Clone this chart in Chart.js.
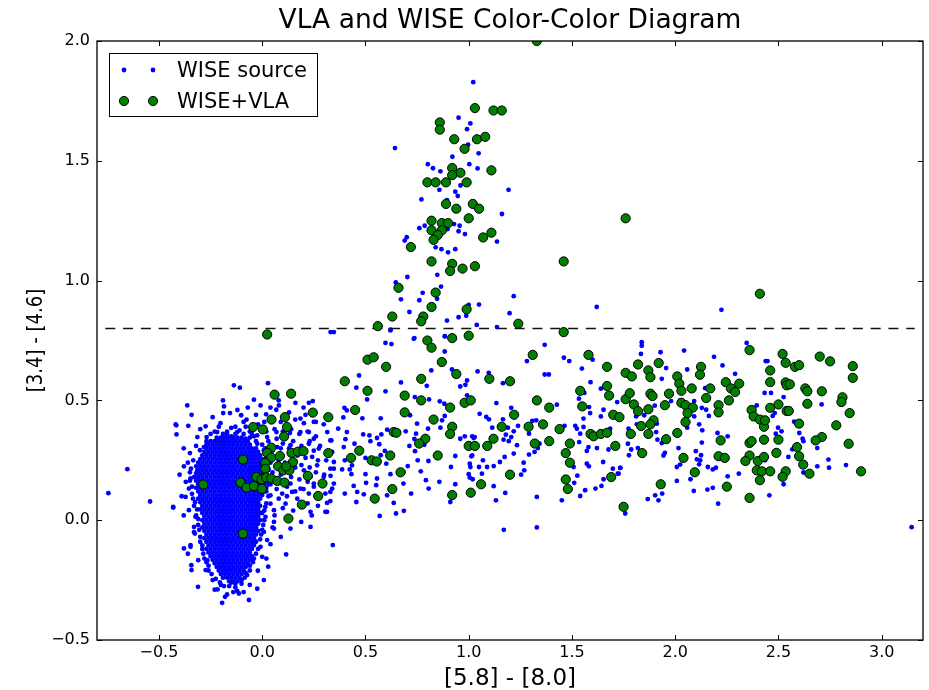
<!DOCTYPE html>
<html>
<head>
<meta charset="utf-8">
<title>VLA and WISE Color-Color Diagram</title>
<script src="https://cdn.jsdelivr.net/npm/chart.js@4.4.0/dist/chart.umd.min.js"></script>
<style>
  html, body { margin: 0; padding: 0; background: #fff; }
  canvas { display: block; }
</style>
</head>
<body>
<canvas id="ccd" width="929" height="690"></canvas>
<script>
// Axis ticks
const xTickValues = [-0.5, 0, 0.5, 1, 1.5, 2, 2.5, 3];
const yTickValues = [-0.5, 0, 0.5, 1, 1.5, 2];

// AGN colour cut in [3.4]-[4.6]
const agnCutoff = 0.8;
const cutoffSpan = [-0.76, 3.16];

// Dense stellar locus of WISE sources: each row is [y, x, x, ...]
const wiseCoreRows = [
  [0.36, -0.17,-0.13,-0.09],
  [0.345, -0.2,-0.18,-0.16,-0.14,-0.12,-0.1],
  [0.33, -0.23,-0.21,-0.19,-0.17,-0.15,-0.13,-0.11,-0.09,-0.07],
  [0.315, -0.26,-0.24,-0.22,-0.2,-0.18,-0.16,-0.14,-0.12,-0.1,-0.08,-0.06],
  [0.3, -0.27,-0.25,-0.23,-0.21,-0.19,-0.17,-0.15,-0.13,-0.11,-0.09,-0.07,-0.05,-0.03],
  [0.285, -0.28,-0.26,-0.24,-0.22,-0.2,-0.18,-0.16,-0.14,-0.12,-0.1,-0.08,-0.06,-0.04,-0.02],
  [0.27, -0.29,-0.27,-0.25,-0.23,-0.21,-0.19,-0.17,-0.15,-0.13,-0.11,-0.09,-0.07,-0.05,-0.03,-0.01],
  [0.255, -0.3,-0.28,-0.26,-0.24,-0.22,-0.2,-0.18,-0.16,-0.14,-0.12,-0.1,-0.08,-0.06,-0.04,-0.02,0.0],
  [0.24, -0.31,-0.29,-0.27,-0.25,-0.23,-0.21,-0.19,-0.17,-0.15,-0.13,-0.11,-0.09,-0.07,-0.05,-0.03,-0.01,0.01],
  [0.225, -0.32,-0.3,-0.28,-0.26,-0.24,-0.22,-0.2,-0.18,-0.16,-0.14,-0.12,-0.1,-0.08,-0.06,-0.04,-0.02,0.0,0.02],
  [0.21, -0.31,-0.29,-0.27,-0.25,-0.23,-0.21,-0.19,-0.17,-0.15,-0.13,-0.11,-0.09,-0.07,-0.05,-0.03,-0.01,0.01,0.03],
  [0.195, -0.32,-0.3,-0.28,-0.26,-0.24,-0.22,-0.2,-0.18,-0.16,-0.14,-0.12,-0.1,-0.08,-0.06,-0.04,-0.02,0.0,0.02],
  [0.18, -0.33,-0.31,-0.29,-0.27,-0.25,-0.23,-0.21,-0.19,-0.17,-0.15,-0.13,-0.11,-0.09,-0.07,-0.05,-0.03,-0.01,0.01,0.03],
  [0.165, -0.32,-0.3,-0.28,-0.26,-0.24,-0.22,-0.2,-0.18,-0.16,-0.14,-0.12,-0.1,-0.08,-0.06,-0.04,-0.02,0.0,0.02,0.04],
  [0.15, -0.31,-0.29,-0.27,-0.25,-0.23,-0.21,-0.19,-0.17,-0.15,-0.13,-0.11,-0.09,-0.07,-0.05,-0.03,-0.01,0.01,0.03],
  [0.135, -0.32,-0.3,-0.28,-0.26,-0.24,-0.22,-0.2,-0.18,-0.16,-0.14,-0.12,-0.1,-0.08,-0.06,-0.04,-0.02,0.0,0.02],
  [0.12, -0.31,-0.29,-0.27,-0.25,-0.23,-0.21,-0.19,-0.17,-0.15,-0.13,-0.11,-0.09,-0.07,-0.05,-0.03,-0.01,0.01],
  [0.105, -0.3,-0.28,-0.26,-0.24,-0.22,-0.2,-0.18,-0.16,-0.14,-0.12,-0.1,-0.08,-0.06,-0.04,-0.02,0.0],
  [0.09, -0.31,-0.29,-0.27,-0.25,-0.23,-0.21,-0.19,-0.17,-0.15,-0.13,-0.11,-0.09,-0.07,-0.05,-0.03,-0.01],
  [0.075, -0.3,-0.28,-0.26,-0.24,-0.22,-0.2,-0.18,-0.16,-0.14,-0.12,-0.1,-0.08,-0.06,-0.04,-0.02],
  [0.06, -0.29,-0.27,-0.25,-0.23,-0.21,-0.19,-0.17,-0.15,-0.13,-0.11,-0.09,-0.07,-0.05,-0.03,-0.01],
  [0.045, -0.3,-0.28,-0.26,-0.24,-0.22,-0.2,-0.18,-0.16,-0.14,-0.12,-0.1,-0.08,-0.06,-0.04,-0.02],
  [0.03, -0.29,-0.27,-0.25,-0.23,-0.21,-0.19,-0.17,-0.15,-0.13,-0.11,-0.09,-0.07,-0.05,-0.03,-0.01],
  [0.015, -0.28,-0.26,-0.24,-0.22,-0.2,-0.18,-0.16,-0.14,-0.12,-0.1,-0.08,-0.06,-0.04,-0.02],
  [0.0, -0.29,-0.27,-0.25,-0.23,-0.21,-0.19,-0.17,-0.15,-0.13,-0.11,-0.09,-0.07,-0.05,-0.03,-0.01],
  [-0.015, -0.28,-0.26,-0.24,-0.22,-0.2,-0.18,-0.16,-0.14,-0.12,-0.1,-0.08,-0.06,-0.04,-0.02],
  [-0.03, -0.29,-0.27,-0.25,-0.23,-0.21,-0.19,-0.17,-0.15,-0.13,-0.11,-0.09,-0.07,-0.05,-0.03],
  [-0.045, -0.28,-0.26,-0.24,-0.22,-0.2,-0.18,-0.16,-0.14,-0.12,-0.1,-0.08,-0.06,-0.04,-0.02],
  [-0.06, -0.27,-0.25,-0.23,-0.21,-0.19,-0.17,-0.15,-0.13,-0.11,-0.09,-0.07,-0.05,-0.03],
  [-0.075, -0.28,-0.26,-0.24,-0.22,-0.2,-0.18,-0.16,-0.14,-0.12,-0.1,-0.08,-0.06,-0.04],
  [-0.09, -0.27,-0.25,-0.23,-0.21,-0.19,-0.17,-0.15,-0.13,-0.11,-0.09,-0.07,-0.05,-0.03],
  [-0.105, -0.26,-0.24,-0.22,-0.2,-0.18,-0.16,-0.14,-0.12,-0.1,-0.08,-0.06,-0.04],
  [-0.12, -0.27,-0.25,-0.23,-0.21,-0.19,-0.17,-0.15,-0.13,-0.11,-0.09,-0.07,-0.05],
  [-0.135, -0.26,-0.24,-0.22,-0.2,-0.18,-0.16,-0.14,-0.12,-0.1,-0.08,-0.06],
  [-0.15, -0.25,-0.23,-0.21,-0.19,-0.17,-0.15,-0.13,-0.11,-0.09,-0.07,-0.05],
  [-0.165, -0.24,-0.22,-0.2,-0.18,-0.16,-0.14,-0.12,-0.1,-0.08,-0.06],
  [-0.18, -0.23,-0.21,-0.19,-0.17,-0.15,-0.13,-0.11,-0.09,-0.07],
  [-0.195, -0.22,-0.2,-0.18,-0.16,-0.14,-0.12,-0.1,-0.08],
  [-0.21, -0.21,-0.19,-0.17,-0.15,-0.13,-0.11,-0.09],
  [-0.225, -0.2,-0.18,-0.16,-0.14,-0.12,-0.1],
  [-0.24, -0.19,-0.17,-0.15,-0.13,-0.11],
  [-0.255, -0.16,-0.14,-0.12]
];

// Remaining WISE sources as [x, y]
const wiseSources = [
  // edge of the stellar locus
  [-0.345,0.215],[-0.35,0.165],[-0.34,0.14],[-0.335,0.09],[-0.325,0.075],[-0.315,0.045],[-0.31,0.005],[-0.305,-0.04],[-0.3,-0.09],[-0.29,-0.105],
  [-0.285,-0.14],[-0.27,-0.175],[-0.26,-0.19],[-0.245,-0.225],[-0.225,-0.245],[-0.205,-0.26],[-0.185,-0.275],
  [-0.005,-0.06],[0.005,-0.02],[0.0,0.03],[0.015,0.055],[0.02,0.12],[0.035,0.18],[0.03,0.215],[0.02,0.26],[0.015,0.3],
  [0.0,0.315],[-0.03,0.33],[-0.045,-0.1],[-0.03,-0.14],[-0.045,-0.175],[-0.06,-0.21],[-0.085,-0.24],[-0.1,-0.265],
  [-0.25,0.33],[-0.27,0.315],[-0.22,0.345],[-0.06,0.345],[-0.19,0.36],[-0.11,0.375],[-0.15,0.385],[-0.05,0.36],[-0.23,0.37],[-0.08,0.39],
  [-0.16,-0.275],[-0.13,-0.265],[-0.14,-0.3],[-0.18,-0.32],[-0.09,-0.3],
  // around the stellar locus
  [0.03,0.33],[0.07,0.34],[0.10,0.32],[0.15,0.33],[0.19,0.31],[0.23,0.33],[0.05,0.29],[0.09,0.30],[0.13,0.30],[0.17,0.27],
  [0.21,0.26],[0.25,0.29],[0.04,0.24],[0.08,0.25],[0.11,0.24],[0.16,0.22],[0.19,0.23],[0.23,0.22],[0.27,0.25],[0.05,0.20],
  [0.09,0.19],[0.14,0.18],[0.18,0.17],[0.22,0.16],[0.26,0.20],[0.04,0.15],[0.07,0.13],[0.12,0.14],[0.16,0.12],[0.20,0.13],
  [0.25,0.14],[0.03,0.10],[0.08,0.09],[0.12,0.10],[0.17,0.09],[0.02,0.37],[0.06,0.38],[0.10,0.37],[0.14,0.38],[0.18,0.36],
  [0.22,0.37],[0.26,0.35],[0.01,0.41],[0.05,0.42],[0.09,0.41],[0.16,0.42],[0.21,0.44],[0.13,0.45],[-0.02,0.40],[-0.06,0.37],
  [-0.09,0.41],[-0.13,0.39],[-0.17,0.37],[-0.21,0.39],[-0.25,0.36],[-0.04,0.35],[-0.15,0.35],[-0.27,0.33],[-0.32,0.31],[-0.35,0.28],
  [-0.36,0.24],[-0.35,0.20],[-0.37,0.16],[-0.34,0.11],[-0.33,0.06],[-0.32,0.02],[-0.31,-0.02],[-0.30,-0.07],[-0.29,-0.12],[-0.28,-0.16],
  [-0.26,-0.21],[-0.24,-0.25],[-0.20,-0.27],[-0.15,-0.26],[-0.10,-0.25],[-0.08,-0.22],[-0.06,-0.19],[-0.04,-0.16],[-0.02,-0.12],[-0.01,-0.08],
  [0.0,-0.04],[0.01,0.0],[0.01,0.04],[0.02,0.07],[-0.23,-0.29],[-0.17,-0.31],[-0.13,-0.28],[-0.06,-0.27],[-0.33,-0.05],[-0.36,-0.14],
  [-0.38,0.02],[-0.39,0.10],[-0.40,0.19],[-0.38,0.30],[-0.30,0.38],[-0.24,0.43],[-0.12,0.46],[-0.07,0.47],[-0.19,0.50],[-0.03,0.44],
  [0.04,0.47],[0.08,0.50],[0.20,0.47],[0.26,0.41],[0.28,0.31],[0.31,0.25],[0.30,0.19],[0.33,0.08],[0.27,0.06],[0.22,0.07],
  [0.24,0.02],[0.15,0.04],[0.10,0.05],[0.06,0.02],[0.05,-0.03],[0.09,-0.07],[0.04,-0.10],[0.02,-0.16],
  [-0.137,0.563],[-0.108,0.553],[0.028,0.572],[-0.363,0.479],[-0.185,0.475],[-0.342,0.44],[-0.189,0.447],[-0.156,0.447],[-0.04,0.503],[-0.008,0.479],
  [0.081,0.479],[0.161,0.49],[0.226,0.49],[0.245,0.497],[-0.419,0.4],[-0.415,0.358],[-0.358,0.394],[-0.274,0.392],[-0.202,0.405],[-0.102,0.438],
  [-0.076,0.42],[0.019,0.442],[0.068,0.461],[0.185,0.424],[0.202,0.405],[0.25,0.41],[0.298,0.4],[0.315,0.368],[-0.314,0.347],[-0.269,0.347],
  [-0.218,0.368],[-0.121,0.368],[-0.048,0.375],[-0.024,0.354],[0.024,0.347],[0.069,0.368],[0.134,0.364],[0.185,0.368],[0.226,0.368],[0.25,0.34],
  [0.33,0.333],[0.339,0.285],[0.274,0.299],[0.226,0.319],[0.202,0.292],[-0.379,0.225],[-0.334,0.25],[-0.301,0.292],[-0.282,0.305],[-0.185,0.326],
  [-0.145,0.333],[-0.081,0.34],[-0.024,0.319],[0.008,0.292],[0.073,0.305],[0.137,0.313],[0.242,0.264],[0.266,0.229],[0.33,0.215],[0.298,0.181],
  [0.25,0.153],[0.347,0.153],[0.33,0.118],[-0.347,0.174],[-0.314,0.208],[-0.355,0.132],[0.202,0.208],[0.234,0.181],[0.185,0.132],[0.137,0.153],
  [-0.194,-0.345],[-0.064,-0.333],[-0.311,-0.278],[-0.216,-0.289],[-0.121,-0.295],[-0.024,-0.286],[0.008,-0.25],[-0.113,-0.306],[-0.342,-0.208],[-0.343,-0.188],
  [-0.379,-0.118],[-0.347,-0.111],[-0.431,0.053],[0.342,-0.104],[0.116,-0.143],[0.234,-0.028],[0.306,0.035],[0.137,-0.035],[0.189,-0.007],[0.057,-0.035],
  [0.024,-0.083],[-0.021,-0.211],[0.029,-0.194],[-0.073,-0.229],[-0.274,-0.208],[-0.266,-0.167],[-0.31,-0.167],[-0.33,-0.028],[-0.326,-0.056],[-0.347,-0.104],
  [0.04,0.104],[0.097,0.111],[0.145,0.118],[0.226,0.111],[0.306,0.111],[0.04,0.069],[0.057,0.042],[0.113,0.069],[0.234,0.035],[0.057,-0.007],
  [0.016,0.014],[0.008,-0.049],[-0.008,-0.111],[0.0,-0.153],[-0.371,0.097],[-0.355,0.042],[-0.323,0.014],
  [-0.745,0.113],[-0.653,0.213],[-0.543,0.078],[-0.431,0.055],[-0.416,0.396],
  // rising branch
  [1.022,1.828],[0.951,1.68],[1.008,1.656],[0.992,1.632],[0.643,1.553],[0.997,1.567],[1.048,1.531],[0.921,1.517],[0.802,1.486],[0.827,1.469],
  [0.863,1.456],[1.003,1.486],[1.043,1.468],[0.858,1.379],[0.96,1.397],[0.935,1.371],[0.947,1.353],[0.771,1.339],[0.895,1.336],[1.193,1.379],
  [1.161,1.278],[0.761,1.219],[0.787,1.229],[0.929,1.236],[0.956,1.229],[0.951,1.206],[0.982,1.194],[0.898,1.215],[0.7,1.181],[0.69,1.167],
  [1.137,1.163],[0.84,1.139],[0.868,1.131],[0.9,1.118],[0.935,1.131],[0.848,1.024],[0.866,0.975],[0.703,1.015],[0.647,0.992],[0.777,0.949],
  [0.761,0.918],[0.847,0.924],[0.672,0.922],[0.713,0.869],[0.895,0.833],[0.951,0.847],[0.988,0.853],[1.0,0.899],[1.05,0.9],[1.039,0.815],
  [1.137,0.806],[1.218,0.935],[1.198,0.864],[0.621,0.795],[0.737,0.76],[0.885,0.768],[1.62,0.89],[0.331,0.785],[0.347,0.785],
  // horizontal branch, x 0.3 - 1.0
  [0.597,0.74],[0.626,0.735],[0.734,0.757],[0.884,0.767],[0.884,0.704],[0.621,0.792],[0.469,0.604],[0.819,0.625],[0.919,0.629],[0.672,0.575],
  [0.797,0.561],[0.456,0.553],[0.597,0.538],[0.508,0.504],[0.739,0.514],[0.808,0.504],[0.86,0.496],[0.882,0.486],[0.959,0.558],[0.984,0.565],
  [0.398,0.469],[0.41,0.458],[0.393,0.429],[0.716,0.438],[0.574,0.425],[0.485,0.425],[0.884,0.435],[0.871,0.417],[0.75,0.403],[0.803,0.382],
  [0.863,0.386],[0.368,0.382],[0.41,0.368],[0.605,0.378],[0.695,0.371],[0.489,0.358],[0.519,0.354],[0.556,0.343],[0.577,0.358],[0.335,0.333],
  [0.403,0.338],[0.524,0.33],[0.745,0.361],[0.737,0.339],[0.959,0.34],[0.981,0.35],[1.024,0.343],[0.395,0.305],[0.447,0.319],[0.567,0.317],
  [0.713,0.31],[0.785,0.315],[0.594,0.289],[0.574,0.271],[0.74,0.288],[0.935,0.268],[1.017,0.27],[0.347,0.243],[0.4,0.25],[0.435,0.229],
  [0.5,0.26],[0.601,0.236],[0.705,0.226],[0.753,0.25],[0.805,0.247],[1.005,0.236],[0.347,0.215],[0.387,0.212],[0.424,0.212],[0.5,0.192],
  [0.621,0.192],[0.684,0.201],[0.768,0.204],[0.914,0.222],[1.0,0.192],[0.331,0.185],[0.432,0.192],[0.556,0.174],[0.793,0.167],[0.858,0.16],
  [0.935,0.15],[1.019,0.171],[0.443,0.143],[0.503,0.156],[0.552,0.146],[0.684,0.153],[0.806,0.132],[0.339,0.132],[0.4,0.111],[0.46,0.118],
  [0.492,0.108],[0.605,0.104],[0.721,0.111],[0.456,0.076],[0.637,0.072],[0.911,0.076],[0.686,0.039],[0.648,0.028],[0.569,0.018],[0.314,0.072],
  [0.314,0.035],
  // horizontal branch, x 1.0 - 1.75
  [1.368,0.732],[1.282,0.664],[1.461,0.678],[1.487,0.664],[1.6,0.67],[1.548,0.633],[1.043,0.621],[1.097,0.615],[1.166,0.572],[1.368,0.608],
  [1.388,0.608],[1.59,0.576],[1.64,0.549],[1.56,0.531],[1.534,0.507],[1.134,0.489],[1.206,0.469],[1.427,0.482],[1.583,0.472],[1.653,0.461],
  [1.588,0.447],[1.053,0.444],[1.085,0.431],[1.098,0.421],[1.166,0.421],[1.64,0.433],[1.308,0.414],[1.327,0.417],[1.556,0.424],[1.239,0.394],
  [1.464,0.394],[1.516,0.394],[1.524,0.382],[1.114,0.386],[1.19,0.386],[1.218,0.371],[1.556,0.389],[1.685,0.382],[1.18,0.357],[1.206,0.347],
  [1.292,0.361],[1.54,0.361],[1.017,0.35],[1.029,0.347],[1.169,0.336],[1.194,0.33],[1.535,0.326],[1.58,0.305],[1.234,0.313],[1.343,0.319],
  [1.621,0.301],[1.677,0.295],[1.572,0.289],[1.335,0.301],[1.319,0.285],[1.218,0.278],[1.292,0.274],[1.013,0.267],[1.174,0.264],[1.151,0.243],
  [1.121,0.226],[1.069,0.25],[1.05,0.222],[1.089,0.222],[1.008,0.222],[1.266,0.24],[1.572,0.236],[1.582,0.225],[1.651,0.243],[1.698,0.215],
  [1.734,0.218],[1.064,0.194],[1.269,0.208],[1.254,0.19],[1.508,0.222],[1.526,0.186],[1.726,0.194],[1.653,0.171],[1.511,0.156],[1.005,0.178],
  [1.121,0.142],[1.177,0.114],[1.33,0.097],[1.564,0.125],[1.614,0.132],[1.643,0.143],[1.54,0.101],[1.132,0.083],[1.451,0.083],[1.758,0.028],
  [0.992,0.583],[0.992,0.521],[1.17,-0.04],[1.33,-0.03],
  // horizontal branch, x 1.7 - 2.45
  [2.224,0.878],[1.838,0.743],[1.838,0.728],[1.834,0.694],[1.929,0.701],[2.043,0.708],[2.188,0.682],[2.346,0.74],[1.956,0.635],[1.935,0.59],
  [2.058,0.629],[2.229,0.646],[2.29,0.611],[2.145,0.551],[2.433,0.531],[2.438,0.664],[1.98,0.497],[2.024,0.5],[2.092,0.497],[2.129,0.469],
  [2.15,0.461],[2.163,0.435],[2.092,0.433],[1.901,0.478],[1.85,0.438],[1.811,0.433],[1.719,0.493],[1.898,0.417],[1.911,0.403],[1.814,0.4],
  [1.774,0.382],[2.058,0.386],[2.116,0.4],[2.131,0.375],[2.205,0.364],[2.254,0.35],[1.908,0.368],[1.914,0.336],[1.935,0.322],[1.771,0.319],
  [2.129,0.324],[1.787,0.295],[1.776,0.271],[1.819,0.301],[1.95,0.281],[1.943,0.27],[2.016,0.301],[2.1,0.288],[2.125,0.271],[2.105,0.254],
  [2.121,0.25],[2.116,0.233],[2.024,0.232],[2.008,0.222],[2.158,0.222],[2.182,0.212],[2.197,0.219],[2.308,0.194],[1.734,0.218],[1.722,0.194],
  [2.008,0.164],[2.074,0.171],[2.254,0.183],[1.939,0.142],[1.903,0.104],[1.937,0.111],[1.919,0.083],[1.867,0.088],[2.09,0.122],[2.156,0.128],
  [2.182,0.135],[2.208,0.069],[2.435,0.25],
  // horizontal branch, x 2.4 - 2.9
  [2.447,0.664],[2.53,0.65],[2.464,0.531],[2.525,0.514],[2.709,0.483],[2.395,0.479],[2.482,0.447],[2.472,0.435],[2.576,0.411],[2.498,0.386],
  [2.515,0.371],[2.487,0.361],[2.601,0.364],[2.617,0.34],[2.621,0.33],[2.567,0.296],[2.548,0.264],[2.688,0.301],[2.742,0.253],[2.745,0.219],
  [2.688,0.225],[2.827,0.23],[2.621,0.199],[2.525,0.15],[2.456,0.104],[3.145,-0.029]
];

// WISE sources with a VLA counterpart as [x, y]
const wiseVlaSources = [
  // rising branch
  [1.03,1.72],[1.12,1.71],[1.16,1.71],[0.86,1.66],[0.86,1.63],[0.93,1.59],[1.04,1.59],[1.08,1.60],[0.98,1.55],[1.11,1.46],
  [0.92,1.47],[0.96,1.45],[0.92,1.44],[0.80,1.41],[0.84,1.41],[0.89,1.41],[0.99,1.41],[0.89,1.32],[1.02,1.32],[1.05,1.30],
  [0.94,1.30],[1.00,1.26],[0.82,1.25],[0.87,1.24],[0.90,1.24],[0.82,1.21],[0.87,1.21],[0.85,1.19],[0.83,1.17],[1.11,1.20],
  [1.07,1.18],[0.72,1.14],[0.82,1.08],[0.92,1.07],[0.91,1.04],[0.97,1.05],[1.03,1.06],[0.66,0.97],[0.84,0.95],[0.82,0.89],
  [0.99,0.88],[0.78,0.85],[0.77,0.83],[0.63,0.85],[0.56,0.81],[1.24,0.82],[0.92,0.76],[1.00,0.77],[0.80,0.75],[1.33,2.00],
  [1.76,1.26],[1.46,1.08],[1.46,0.785],[2.41,0.945],
  // x 0.3 - 1.0
  [0.82,0.72],[0.51,0.67],[0.54,0.68],[0.60,0.64],[0.87,0.66],[0.94,0.61],[0.40,0.58],[0.77,0.59],[0.51,0.54],[0.69,0.52],
  [0.77,0.50],[0.98,0.49],[1.01,0.50],[0.91,0.47],[0.45,0.46],[0.69,0.45],[0.32,0.43],[0.83,0.42],[0.92,0.39],[0.91,0.36],
  [0.637,0.368],[0.65,0.365],[0.79,0.34],[0.76,0.32],[1.00,0.31],[1.03,0.31],[0.47,0.29],[0.43,0.26],[0.32,0.28],[0.53,0.25],
  [0.555,0.245],[0.62,0.27],[0.85,0.27],[0.67,0.20],[0.63,0.13],[0.545,0.09],[0.92,0.105],[1.01,0.115],
  // x 1.0 - 1.8
  [1.31,0.69],[1.58,0.69],[1.67,0.64],[1.76,0.615],[1.10,0.59],[1.20,0.58],[1.33,0.50],[1.54,0.54],[1.67,0.56],[1.68,0.52],
  [1.76,0.505],[1.55,0.475],[1.39,0.47],[1.22,0.44],[1.70,0.44],[1.73,0.43],[1.16,0.39],[1.29,0.39],[1.36,0.40],[1.44,0.38],
  [1.59,0.36],[1.605,0.35],[1.64,0.36],[1.67,0.365],[1.12,0.34],[1.39,0.33],[1.09,0.31],[1.32,0.32],[1.49,0.32],[1.71,0.31],
  [1.47,0.28],[1.49,0.24],[1.20,0.19],[1.69,0.18],[1.47,0.17],[1.48,0.13],[1.06,0.15],[1.75,0.056],
  // x 1.7 - 2.45
  [2.36,0.71],[1.82,0.65],[1.92,0.656],[1.79,0.60],[1.87,0.625],[1.88,0.597],[2.01,0.60],[2.02,0.57],[2.03,0.54],[2.125,0.64],
  [2.12,0.607],[2.17,0.55],[2.08,0.55],[2.245,0.576],[2.27,0.55],[2.29,0.535],[2.31,0.57],[2.26,0.50],[1.78,0.53],[1.88,0.528],
  [1.89,0.518],[1.97,0.528],[2.03,0.49],[2.05,0.48],[2.085,0.47],[2.15,0.51],[2.21,0.48],[2.21,0.45],[2.06,0.447],[1.80,0.483],
  [1.82,0.455],[1.87,0.463],[1.95,0.48],[1.895,0.417],[1.88,0.40],[1.835,0.393],[1.87,0.36],[2.05,0.41],[2.01,0.364],[1.785,0.36],
  [1.956,0.338],[2.22,0.333],[1.84,0.28],[2.04,0.26],[2.21,0.267],[2.24,0.26],[2.095,0.20],[1.93,0.15],[2.25,0.14],[2.36,0.093],
  [2.37,0.46],[2.38,0.433],[2.41,0.42],[2.43,0.39],[2.43,0.336],[2.36,0.322],[2.37,0.33],[2.36,0.27],[2.34,0.247],[2.40,0.247],
  [2.395,0.208],[2.42,0.204],[2.41,0.167],
  // x 2.4 - 2.9
  [2.52,0.694],[2.70,0.683],[2.75,0.663],[2.86,0.643],[2.86,0.594],[2.535,0.657],[2.58,0.64],[2.60,0.647],[2.46,0.625],[2.46,0.576],
  [2.535,0.575],[2.54,0.563],[2.555,0.567],[2.63,0.55],[2.64,0.538],[2.71,0.538],[2.81,0.513],[2.805,0.493],[2.845,0.447],[2.64,0.486],
  [2.50,0.483],[2.46,0.469],[2.54,0.456],[2.55,0.456],[2.78,0.396],[2.60,0.403],[2.435,0.417],[2.71,0.347],[2.68,0.333],[2.84,0.319],
  [2.50,0.336],[2.59,0.305],[2.60,0.267],[2.49,0.281],[2.43,0.264],[2.62,0.232],[2.46,0.204],[2.535,0.204],[2.65,0.194],[2.52,0.181],
  [2.90,0.204],
  // stellar locus
  [0.06,0.524],[0.14,0.528],[0.245,0.449],[0.045,0.42],[0.11,0.43],[-0.044,0.389],[0.003,0.379],[0.12,0.389],[0.106,0.349],[0.044,0.303],
  [0.024,0.281],[0.044,0.261],[0.086,0.268],[0.142,0.281],[0.173,0.286],[0.200,0.288],[0.149,0.243],[-0.093,0.253],[0.015,0.239],[0.015,0.215],
  [0.077,0.225],[0.102,0.208],[0.132,0.208],[0.116,0.225],[0.221,0.185],[-0.028,0.181],[-0.003,0.171],[0.019,0.178],[0.044,0.174],[0.073,0.164],
  [0.108,0.157],[-0.105,0.157],[-0.076,0.136],[-0.040,0.142],[-0.001,0.131],[-0.285,0.149],[0.292,0.153],[0.271,0.101],[0.192,0.065],[0.127,0.007],
  [-0.093,-0.056],[0.024,0.775]
];

const wisePoints = [];
wiseCoreRows.forEach(row => {
  for (let i = 1; i < row.length; i++) wisePoints.push({ x: row[i], y: row[0] });
});
wiseSources.forEach(p => wisePoints.push({ x: p[0], y: p[1] }));
const vlaPoints = wiseVlaSources.map(p => ({ x: p[0], y: p[1] }));
const cutoffLine = cutoffSpan.map(v => ({ x: v, y: agnCutoff }));

const FONT = "'DejaVu Sans', 'Liberation Sans', sans-serif";
const BLUE = '#0000ff';
const GREEN = '#007f00';

const fmtTick = v => (v < 0 ? '\u2212' : '') + Math.abs(v).toFixed(1);

// Frame, inward ticks, titles and boxed legend in the classic style
const decor = {
  id: 'decor',
  beforeDraw(chart) {
    const ctx = chart.ctx;
    ctx.save();
    ctx.fillStyle = '#fff';
    ctx.fillRect(0, 0, chart.width, chart.height);
    ctx.restore();
  },
  afterDraw(chart) {
    const { ctx, chartArea: a, scales: { x, y } } = chart;
    ctx.save();
    ctx.strokeStyle = '#000';
    ctx.lineWidth = 1;
    const tl = 5;
    ctx.beginPath();
    xTickValues.forEach(v => {
      const px = Math.round(x.getPixelForValue(v)) + 0.5;
      ctx.moveTo(px, a.bottom); ctx.lineTo(px, a.bottom - tl);
      ctx.moveTo(px, a.top); ctx.lineTo(px, a.top + tl);
    });
    yTickValues.forEach(v => {
      const py = Math.round(y.getPixelForValue(v)) + 0.5;
      ctx.moveTo(a.left, py); ctx.lineTo(a.left + tl, py);
      ctx.moveTo(a.right, py); ctx.lineTo(a.right - tl, py);
    });
    ctx.stroke();
    ctx.lineWidth = 1.3;
    ctx.strokeRect(a.left, a.top, a.right - a.left, a.bottom - a.top);

    // titles
    ctx.fillStyle = '#000';
    ctx.textAlign = 'center';
    ctx.textBaseline = 'alphabetic';
    ctx.font = `26.5px ${FONT}`;
    ctx.fillText('VLA and WISE Color-Color Diagram', (a.left + a.right) / 2, 28);
    ctx.font = `23px ${FONT}`;
    ctx.fillText('[5.8] - [8.0]', (a.left + a.right) / 2, 685);
    ctx.save();
    ctx.translate(36, (a.top + a.bottom) / 2);
    ctx.rotate(-Math.PI / 2);
    ctx.scale(0.82, 1);
    ctx.textBaseline = 'middle';
    ctx.font = `22px ${FONT}`;
    ctx.fillText('[3.4] - [4.6]', 0, 0);
    ctx.restore();

    // legend
    const bx = 109.5, by = 53.5, bw = 208, bh = 63;
    ctx.fillStyle = '#fff';
    ctx.fillRect(bx, by, bw, bh);
    ctx.lineWidth = 1;
    ctx.strokeStyle = '#000';
    ctx.strokeRect(bx, by, bw, bh);
    const mx = [124, 153];
    mx.forEach(cx => {
      ctx.beginPath(); ctx.arc(cx, 70, 2.4, 0, Math.PI * 2);
      ctx.fillStyle = BLUE; ctx.fill();
      ctx.beginPath(); ctx.arc(cx, 101, 4.6, 0, Math.PI * 2);
      ctx.fillStyle = GREEN; ctx.fill();
      ctx.strokeStyle = '#000'; ctx.stroke();
    });
    ctx.fillStyle = '#000';
    ctx.textAlign = 'left';
    ctx.textBaseline = 'alphabetic';
    ctx.font = `21px ${FONT}`;
    ctx.fillText('WISE source', 177, 77);
    ctx.fillText('WISE+VLA', 177, 108);
    ctx.restore();
  }
};

new Chart(document.getElementById('ccd'), {
  type: 'scatter',
  data: {
    datasets: [
      {
        label: 'WISE source',
        data: wisePoints,
        backgroundColor: BLUE,
        borderWidth: 0,
        pointRadius: 2.4,
        order: 3
      },
      {
        type: 'line',
        label: 'AGN cut',
        data: cutoffLine,
        borderColor: '#111',
        borderWidth: 1.6,
        borderDash: [10, 7.8],
        pointRadius: 0,
        fill: false,
        order: 2
      },
      {
        label: 'WISE+VLA',
        data: vlaPoints,
        backgroundColor: GREEN,
        borderColor: '#000',
        borderWidth: 1,
        pointRadius: 4.6,
        order: 1
      }
    ]
  },
  options: {
    responsive: false,
    animation: false,
    devicePixelRatio: 1,
    events: [],
    layout: { padding: { left: 0, right: 6, top: 41, bottom: 0 } },
    plugins: {
      legend: { display: false },
      tooltip: { enabled: false },
      title: { display: false }
    },
    scales: {
      x: {
        type: 'linear',
        min: -0.8,
        max: 3.2,
        afterFit(s) { s.height = 50; },
        afterBuildTicks(s) { s.ticks = xTickValues.map(v => ({ value: v })); },
        grid: { display: false, drawTicks: false },
        border: { display: false },
        ticks: {
          includeBounds: false,
          autoSkip: false,
          maxRotation: 0,
          padding: 3,
          color: '#000',
          font: { family: FONT, size: 16 },
          callback: fmtTick
        }
      },
      y: {
        type: 'linear',
        min: -0.5,
        max: 2.0,
        afterFit(s) { s.width = 97; },
        afterBuildTicks(s) { s.ticks = yTickValues.map(v => ({ value: v })); },
        grid: { display: false, drawTicks: false },
        border: { display: false },
        ticks: {
          includeBounds: false,
          autoSkip: false,
          padding: 7,
          color: '#000',
          font: { family: FONT, size: 16 },
          callback: fmtTick
        }
      }
    }
  },
  plugins: [decor]
});
</script>
</body>
</html>
